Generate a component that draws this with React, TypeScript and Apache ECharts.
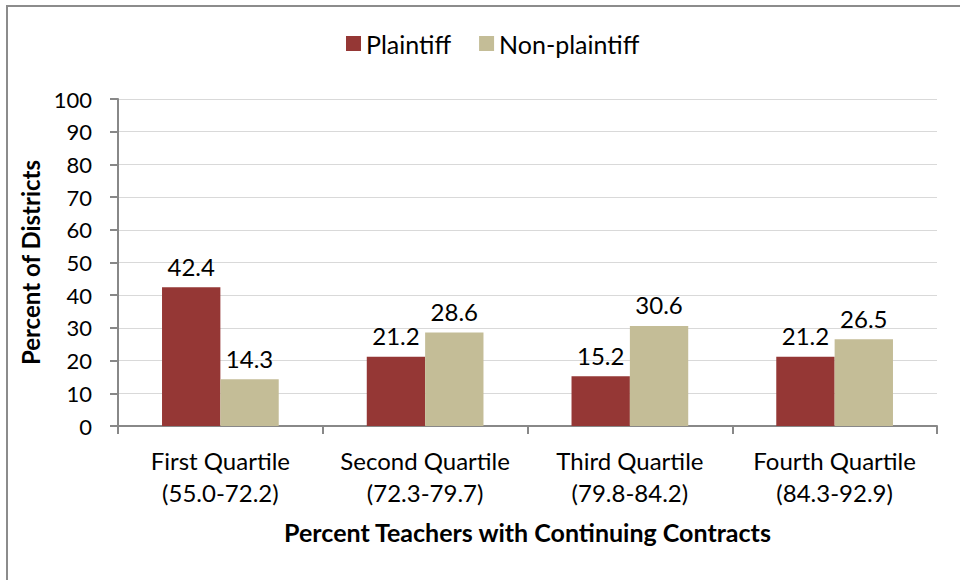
import React, { useEffect, useRef } from "react";
import * as echarts from "echarts";

const categories = [
  "First Quartile\n(55.0-72.2)",
  "Second Quartile\n(72.3-79.7)",
  "Third Quartile\n(79.8-84.2)",
  "Fourth Quartile\n(84.3-92.9)",
];
const plaintiff = [42.4, 21.2, 15.2, 21.2];
const nonPlaintiff = [14.3, 28.6, 30.6, 26.5];
const seriesNames = ["Plaintiff", "Non-plaintiff"];
const yTitle = "Percent of Districts";
const xTitle = "Percent Teachers with Continuing Contracts";

const FONT = "Lato, 'Open Sans', sans-serif";

export default function App() {
  const ref = useRef<HTMLDivElement>(null);
  useEffect(() => {
    if (!ref.current) return;
    const chart = echarts.init(ref.current, undefined, { renderer: "svg" });
    const label = {
      show: true,
      position: "top",
      distance: 9,
      color: "#000",
      fontSize: 24,
      fontFamily: FONT,
      formatter: (p: any) => p.value.toFixed(1),
    };
    chart.setOption({
      animation: false,
      backgroundColor: "#fff",
      textStyle: { fontFamily: FONT },
      legend: {
        top: 31,
        left: 346,
        itemWidth: 15,
        itemHeight: 15,
        itemGap: 28,
        padding: 0,
        textStyle: { fontSize: 25, color: "#000", fontFamily: FONT },
        icon: "rect",
        data: seriesNames,
      },
      grid: { left: 118, right: 23, top: 99, bottom: 154 },
      xAxis: {
        type: "category",
        data: categories,
        name: xTitle,
        nameLocation: "middle",
        nameGap: 93,
        nameTextStyle: { fontSize: 25, fontWeight: "bold", color: "#000", fontFamily: FONT },
        axisLine: { lineStyle: { color: "#888", width: 2 } },
        axisTick: { show: true, interval: 0, length: 8, lineStyle: { color: "#888", width: 2 } },
        axisLabel: { interval: 0, fontSize: 24, color: "#000", lineHeight: 32, margin: 18, fontFamily: FONT },
      },
      yAxis: {
        type: "value",
        min: 0,
        max: 100,
        interval: 10,
        name: yTitle,
        nameLocation: "middle",
        nameGap: 71,
        nameTextStyle: { fontSize: 24, fontWeight: "bold", color: "#000", fontFamily: FONT },
        axisLine: { show: true, lineStyle: { color: "#888", width: 2 } },
        axisTick: { show: true, length: 8, lineStyle: { color: "#888", width: 2 } },
        axisLabel: { fontSize: 22, color: "#000", margin: 26, fontFamily: FONT },
        splitLine: { lineStyle: { color: "#d9d9d9", width: 1 } },
      },
      series: [
        {
          name: seriesNames[0],
          type: "bar",
          data: plaintiff,
          itemStyle: { color: "#953735" },
          barGap: "0%",
          barCategoryGap: "43%",
          label,
        },
        {
          name: seriesNames[1],
          type: "bar",
          data: nonPlaintiff,
          itemStyle: { color: "#C4BD97" },
          label,
        },
      ],
      graphic: [
        {
          type: "rect",
          shape: { x: 7, y: 6, width: 960, height: 600 },
          style: { fill: "none", stroke: "#8c8c8c", lineWidth: 2 },
          silent: true,
        },
      ],
    });
    return () => chart.dispose();
  }, []);
  return (
    <div
      ref={ref}
      style={{ position: "fixed", left: 0, top: 0, width: 960, height: 580 }}
    />
  );
}
